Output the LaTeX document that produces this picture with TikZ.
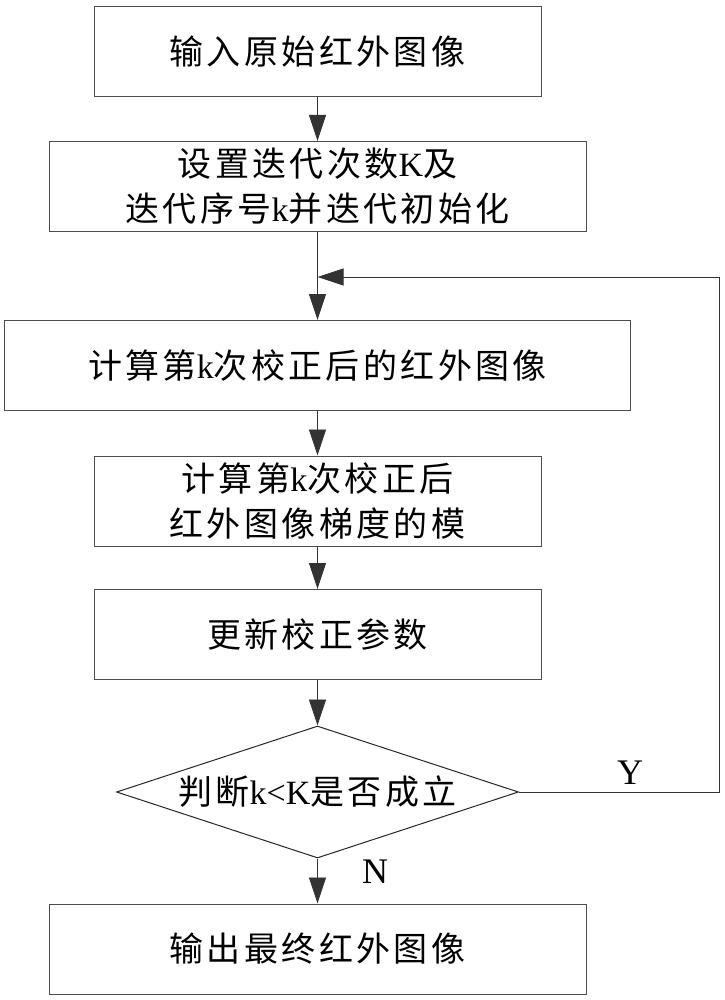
\documentclass[tikz,border=0pt]{standalone}
\usepackage{fontspec}
\setmainfont{Liberation Serif}
\newfontfamily\cjk[LetterSpace=10]{Noto Sans CJK SC}
\usetikzlibrary{arrows.meta, shapes.geometric}
\newcommand\lat[1]{{\rmfamily #1}}

\begin{document}
\begin{tikzpicture}[x=1pt, y=-1pt, >={Triangle[length=26pt,width=17pt]},
  box/.style={draw=black!70, line width=1pt, minimum height=90pt, inner sep=0pt,
    align=center, font=\fontsize{34}{45}\selectfont\cjk},
  decision/.style={draw=black!85, line width=1pt, diamond, minimum width=402pt,
    minimum height=132pt, inner sep=0pt},
  link/.style={black!80, line width=0.8pt},
  branch/.style={font=\fontsize{36}{40}\selectfont}]

  \useasboundingbox (0,0) rectangle (724,1000);

  % Steps of the correction loop
  \node[box, minimum width=447pt] (input) at (317.5,52) {输入原始红外图像};
  \node[box, minimum width=537pt] (init) at (317.5,186.5) {设置迭代次数\lat{K}及\\迭代序号\lat{k}并迭代初始化};
  \node[box, minimum width=626pt] (corr) at (317.5,365.5) {计算第\lat{k}次校正后的红外图像};
  \node[box, minimum width=447pt] (grad) at (317.5,501) {计算第\lat{k}次校正后\\红外图像梯度的模};
  \node[box, minimum width=447pt] (update) at (317.5,634.5) {更新校正参数};
  \node[decision] (judge) at (317.5,792) {};
  \node[font=\fontsize{34}{40}\selectfont\cjk] (judgetext) at (judge) {判断\lat{k<K}是否成立};
  \node[box, minimum width=537pt] (output) at (317.5,949) {输出最终红外图像};

  % Connectors
  \coordinate (loop) at (317.5,277);
  \coordinate (turn) at (719,792);
  \draw[link, ->] (input) -- (init);
  \draw[link, ->] (init) -- (corr);
  \draw[link, ->] (corr) -- (grad);
  \draw[link, ->] (grad) -- (update);
  \draw[link, ->] (update) -- (judge);
  \draw[link, ->] (judge) -- (output);
  \draw[link, ->] (judge.east) -- (turn) |- (loop);

  % Branch labels
  \node[branch] (yes) at (630,773) {Y};
  \node[branch] (no) at (375,872) {N};
\end{tikzpicture}
\end{document}
